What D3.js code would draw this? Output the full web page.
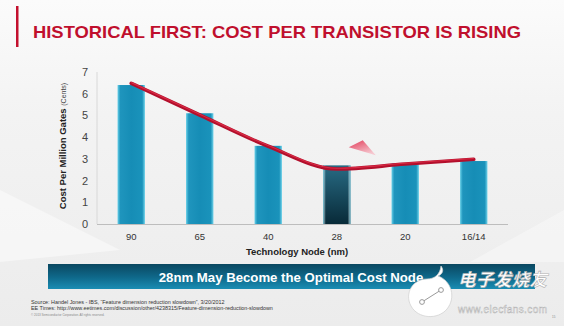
<!DOCTYPE html>
<html>
<head>
<meta charset="utf-8">
<script src="https://cdn.jsdelivr.net/npm/d3@7"></script>
<style>
  html, body { margin: 0; padding: 0; background: #f4f4f4; }
  svg { display: block; font-family: "Liberation Sans", Arial, sans-serif; }
</style>
</head>
<body>
<svg id="chart" width="564" height="326"></svg>
<script>
// ---- data ----
const nodes = ["90", "65", "40", "28", "20", "16/14"];
const costValues = [6.4, 5.1, 3.6, 2.7, 2.8, 2.9];
const trendValues = [6.48, 5.02, 3.58, 2.53, 2.76, 2.98];
const yTicks = [0, 1, 2, 3, 4, 5, 6, 7];
const highlightNode = "28";
const titleText = "HISTORICAL FIRST: COST PER TRANSISTOR IS RISING";
const yLabelMain = "Cost Per Million Gates ";
const yLabelUnit = "(Cents)";
const xLabel = "Technology Node (nm)";
const bannerText = "28nm May Become the Optimal Cost Node";
const sourceLines = [
  "Source: Handel Jones - IBS, \u201cFeature dimension reduction slowdown\u201d, 3/20/2012",
  "EE Times:  http://www.eetimes.com/discussion/other/4238315/Feature-dimension-reduction-slowdown"
];
const copyrightText = "\u00a9 2013 Semiconductor Corporation.  All rights reserved.";
const pageNum = "15";

const svg = d3.select("#chart");
const W = 564, H = 326;
const defs = svg.append("defs");

// background
const bg = defs.append("linearGradient").attr("id", "bg").attr("x1", 0).attr("y1", 0).attr("x2", 0).attr("y2", 1);
bg.append("stop").attr("offset", 0).attr("stop-color", "#fbfbfb");
bg.append("stop").attr("offset", 0.35).attr("stop-color", "#f3f3f3");
bg.append("stop").attr("offset", 1).attr("stop-color", "#ececec");
svg.append("rect").attr("width", W).attr("height", H).attr("fill", "url(#bg)");
svg.append("path").attr("d", "M0,190 L120,250 L0,262 Z").attr("fill", "#ffffff").attr("opacity", 0.45);
svg.append("path").attr("d", "M564,210 L470,262 L564,262 Z").attr("fill", "#ffffff").attr("opacity", 0.35);

// title
svg.append("rect").attr("x", 16).attr("y", 6).attr("width", 2.5).attr("height", 41).attr("fill", "#c3102e");
svg.append("text").attr("x", 33).attr("y", 37.5)
  .attr("font-size", 17).attr("font-weight", "bold").attr("fill", "#c00f2d")
  .attr("textLength", 488).attr("lengthAdjust", "spacingAndGlyphs")
  .text(titleText);

// scales
const x = d3.scaleBand().domain(nodes).range([97, 508]).paddingInner(0.6).paddingOuter(0.3);
const y = d3.scaleLinear().domain([0, 7]).range([224, 72]);

// axes lines
svg.append("line").attr("x1", 97).attr("x2", 97).attr("y1", y(7)).attr("y2", y(0)).attr("stroke", "#d8d8d8").attr("stroke-width", 1);
svg.append("line").attr("x1", 97).attr("x2", 508).attr("y1", y(0) + 0.5).attr("y2", y(0) + 0.5).attr("stroke", "#bdbdbd").attr("stroke-width", 1);

// y ticks
svg.append("g").selectAll("text").data(yTicks).join("text")
  .attr("x", 88).attr("y", d => y(d)).attr("dy", "0.36em")
  .attr("text-anchor", "end").attr("font-size", 11).attr("fill", "#444")
  .text(d => d);

// x ticks
svg.append("g").selectAll("text").data(nodes).join("text")
  .attr("x", d => x(d) + x.bandwidth() / 2).attr("y", 239.5)
  .attr("text-anchor", "middle").attr("font-size", 9.5).attr("fill", "#333")
  .text(d => d);

// y label
const yl = svg.append("text").attr("transform", "translate(66," + 146 + ") rotate(-90)")
  .attr("text-anchor", "middle").attr("fill", "#222");
yl.append("tspan").attr("font-size", 9.5).attr("font-weight", "bold").text(yLabelMain);
yl.append("tspan").attr("font-size", 7).attr("fill", "#444").text(yLabelUnit);

// x label
svg.append("text").attr("x", 297).attr("y", 254.5).attr("text-anchor", "middle")
  .attr("font-size", 9.5).attr("font-weight", "bold").attr("fill", "#222").text(xLabel);

// bar gradients
const gBar = defs.append("linearGradient").attr("id", "gBar").attr("x1", 0).attr("x2", 1).attr("y1", 0).attr("y2", 0);
[[0, "#66cfe8"], [0.1, "#1f95bd"], [0.5, "#168db6"], [0.9, "#1a93bb"], [1, "#72d3ea"]].forEach(s => gBar.append("stop").attr("offset", s[0]).attr("stop-color", s[1]));
const gDark = defs.append("linearGradient").attr("id", "gDark").attr("x1", 0).attr("x2", 0).attr("y1", 0).attr("y2", 1);
gDark.append("stop").attr("offset", 0).attr("stop-color", "#286b84");
gDark.append("stop").attr("offset", 1).attr("stop-color", "#082a38");
const gEdge = defs.append("linearGradient").attr("id", "gEdge").attr("x1", 0).attr("x2", 1).attr("y1", 0).attr("y2", 0);
[[0, "#7fd5ea", 0.9], [0.1, "#ffffff", 0], [0.9, "#ffffff", 0], [1, "#7fd5ea", 0.9]].forEach(s => gEdge.append("stop").attr("offset", s[0]).attr("stop-color", s[1]).attr("stop-opacity", s[2]));

const bars = svg.append("g");
bars.selectAll("rect.bar").data(nodes).join("rect").attr("class", "bar")
  .attr("x", d => x(d)).attr("width", x.bandwidth())
  .attr("y", (d, i) => y(costValues[i])).attr("height", (d, i) => y(0) - y(costValues[i]))
  .attr("fill", d => d === highlightNode ? "url(#gDark)" : "url(#gBar)");
bars.selectAll("rect.edge").data(nodes.filter(d => d === highlightNode)).join("rect").attr("class", "edge")
  .attr("x", d => x(d)).attr("width", x.bandwidth())
  .attr("y", d => y(costValues[nodes.indexOf(d)])).attr("height", d => y(0) - y(costValues[nodes.indexOf(d)]))
  .attr("fill", "url(#gEdge)");

// trend line
const line = d3.line().x((d, i) => x(nodes[i]) + x.bandwidth() / 2).y(d => y(d)).curve(d3.curveMonotoneX);
svg.append("path").attr("d", line(trendValues)).attr("fill", "none")
  .attr("stroke", "#b30f2c").attr("stroke-width", 3.6).attr("stroke-linecap", "round");
svg.append("path").attr("d", line(trendValues)).attr("fill", "none")
  .attr("stroke", "#e8364f").attr("stroke-width", 1.2).attr("transform", "translate(0,-0.8)").attr("opacity", 0.7);

// arrowhead decoration
const gTri = defs.append("linearGradient").attr("id", "gTri").attr("x1", 0).attr("x2", 0.6).attr("y1", 0).attr("y2", 1);
gTri.append("stop").attr("offset", 0).attr("stop-color", "#e02848");
gTri.append("stop").attr("offset", 1).attr("stop-color", "#f6c3cc");
const ax = x(highlightNode) + x.bandwidth() / 2, ay = y(2.7);
svg.append("path")
  .attr("d", `M${ax + 12},${ay - 18} L${ax + 26},${ay - 25} L${ax + 39},${ay - 10} Z`)
  .attr("fill", "url(#gTri)").attr("opacity", 0.9);

// banner
const gBan = defs.append("linearGradient").attr("id", "gBan").attr("x1", 0).attr("x2", 0).attr("y1", 0).attr("y2", 1);
gBan.append("stop").attr("offset", 0).attr("stop-color", "#0a4760");
gBan.append("stop").attr("offset", 0.55).attr("stop-color", "#0f6a8c");
gBan.append("stop").attr("offset", 1).attr("stop-color", "#1a8db3");
svg.append("rect").attr("x", 48).attr("y", 264).attr("width", 487).attr("height", 25).attr("fill", "url(#gBan)");
svg.append("text").attr("x", 291).attr("y", 281.5).attr("text-anchor", "middle")
  .attr("font-size", 13.2).attr("font-weight", "bold").attr("fill", "#ffffff").text(bannerText);

// sources
svg.append("g").selectAll("text").data(sourceLines).join("text")
  .attr("x", 31).attr("y", (d, i) => 304 + i * 6)
  .attr("font-size", 5.4).attr("fill", "#333").text(d => d);
svg.append("text").attr("x", 31).attr("y", 315.5).attr("font-size", 3).attr("fill", "#888").text(copyrightText);
svg.append("text").attr("x", 552).attr("y", 318).attr("font-size", 3).attr("fill", "#888").text(pageNum);

// watermark
const wm = svg.append("g");
wm.append("path")
  .attr("d", "M438,276 C452,281 456,298 447,309 C438,320 418,319 411,306 C404,293 413,279 427,279 C434,279 440,275 441,266 C444,270 443,274 438,276 Z")
  .attr("fill", "#ffffff").attr("stroke", "#cfcfcf").attr("stroke-width", 0.7);
wm.append("line").attr("x1", 422).attr("y1", 302).attr("x2", 441).attr("y2", 290).attr("stroke", "#9a9a9a").attr("stroke-width", 1);
wm.append("circle").attr("cx", 422).attr("cy", 302).attr("r", 2.4).attr("fill", "#fff").attr("stroke", "#9a9a9a");
wm.append("circle").attr("cx", 441).attr("cy", 290).attr("r", 2.4).attr("fill", "#fff").attr("stroke", "#9a9a9a");
wm.append("text").attr("x", 458).attr("y", 286).attr("font-family", "Noto Sans CJK SC").attr("font-size", 17.5)
  .attr("font-weight", "bold").attr("font-style", "italic").attr("fill", "#ffffff").attr("stroke", "#b0b0b0").attr("stroke-width", 0.6)
  .attr("textLength", 89).text("电子发烧友");
wm.append("text").attr("x", 458).attr("y", 313).attr("font-size", 10).attr("fill", "#ffffff")
  .attr("stroke", "#b0b0b0").attr("stroke-width", 0.45).attr("textLength", 89).text("www.elecfans.com");
</script>
</body>
</html>
